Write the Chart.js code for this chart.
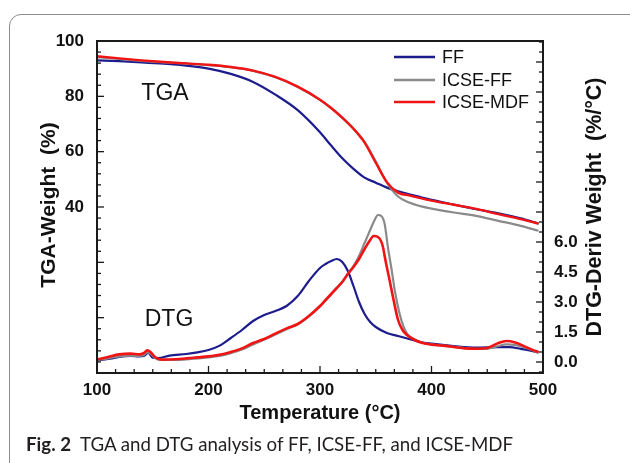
<!DOCTYPE html>
<html>
<head>
<meta charset="utf-8">
<script src="https://cdn.jsdelivr.net/npm/chart.js@4"></script>
<style>
html, body { margin: 0; padding: 0; background: #fff; }
#wrap { position: relative; width: 630px; height: 463px; overflow: hidden; }
#card { position: absolute; left: 9px; top: 14px; width: 640px; height: 480px; border: 1.5px solid #8c8c8c; border-radius: 12px; }
#chart { position: absolute; left: 0; top: 0; }
#caption { position: absolute; left: 26px; top: 433px; font-family: Lato, sans-serif; font-size: 18.7px; color: #231f20; white-space: nowrap; }
#caption b { font-weight: 700; }
</style>
</head>
<body>
<div id="wrap">
  <div id="card"></div>
  <canvas id="chart" width="630" height="463"></canvas>
  <div id="caption"><b>Fig. 2</b>&nbsp; TGA and DTG analysis of FF, ICSE-FF, and ICSE-MDF</div>
</div>
<script>
// legend names, same order as the colours
const names = ['FF', 'ICSE-FF', 'ICSE-MDF'];
const colors = ['#1c1c8c', '#8a8a8a', '#f01414'];

// TGA weight (%) vs temperature (°C)
const tgaT   = [100,120,140,160,180,200,220,240,260,280,300,310,320,330,340,350,360,370,380,390,400,420,440,460,480,496];
const ffTga  = [93.0,92.7,92.3,91.8,91.1,90.0,88.1,85.2,80.6,75.0,67.0,62.2,57.6,53.8,50.6,48.8,47.0,45.7,44.6,43.6,42.6,40.9,39.2,37.7,35.9,34.0];
const iffTga = [94.2,93.5,92.8,92.3,91.8,91.3,90.5,89.2,86.9,83.4,78.7,75.7,72.2,68.3,63.5,56.5,48.8,43.8,41.6,40.3,39.4,38.0,36.8,35.0,33.2,31.4];
const mdfTga = [94.5,93.7,93.0,92.4,91.9,91.4,90.6,89.3,87.0,83.5,78.8,75.8,72.3,68.3,63.3,56.0,49.0,45.2,44.2,43.2,42.3,40.8,39.3,37.4,35.6,34.0];

// DTG (%/°C) vs temperature (°C)
const ffDtgT = [100,110,120,130,138,142,146,150,155,165,180,190,200,210,220,230,240,250,260,270,280,290,300,305,310,315,320,325,330,335,340,345,350,360,370,380,390,400,420,440,460,470,480,490,496];
const ffDtg  = [0.08,0.15,0.25,0.3,0.28,0.3,0.45,0.22,0.2,0.32,0.4,0.48,0.6,0.82,1.2,1.6,2.05,2.35,2.55,2.8,3.3,4.05,4.7,4.9,5.05,5.15,5.0,4.55,3.8,3.0,2.4,2.0,1.75,1.45,1.3,1.15,1.0,0.92,0.8,0.72,0.74,0.74,0.66,0.56,0.48];
const iffDtgT = [100,110,120,130,138,142,145,148,152,158,170,180,190,200,210,220,230,240,250,260,270,280,290,300,305,310,315,320,325,330,335,340,345,349,352,355,358,361,364,367,371,375,379,384,390,400,410,420,430,440,450,455,460,467,475,482,490,496];
const iffDtg  = [0.1,0.18,0.28,0.32,0.3,0.35,0.48,0.42,0.2,0.1,0.1,0.13,0.18,0.23,0.3,0.44,0.62,0.88,1.12,1.38,1.64,1.88,2.28,2.78,3.08,3.38,3.7,4.02,4.42,4.8,5.3,5.95,6.6,7.1,7.35,7.3,6.9,5.7,4.7,3.6,2.5,1.75,1.35,1.15,1.0,0.88,0.82,0.76,0.7,0.66,0.66,0.72,0.8,0.88,0.85,0.75,0.6,0.45];
const mdfDtgT = [100,110,120,130,138,142,145,148,152,158,170,180,190,200,210,220,230,240,250,260,270,280,290,300,305,310,315,320,325,330,335,340,345,348,352,356,359,362,366,370,374,378,385,392,400,410,420,430,440,450,455,460,467,475,482,490,496];
const mdfDtg  = [0.12,0.25,0.38,0.42,0.38,0.45,0.58,0.5,0.25,0.12,0.14,0.18,0.23,0.28,0.36,0.5,0.68,0.95,1.15,1.42,1.68,1.9,2.3,2.8,3.1,3.4,3.7,4.0,4.4,4.75,5.15,5.65,6.1,6.3,6.25,5.85,5.0,4.2,3.1,2.1,1.6,1.35,1.1,0.95,0.87,0.82,0.75,0.68,0.66,0.7,0.82,0.95,1.05,0.98,0.82,0.62,0.5];

// axis ticks
const xLabels = [100, 200, 300, 400, 500];
const tgaLabels = [40, 60, 80, 100];
const dtgLabels = [0, 1.5, 3, 4.5, 6];

const font = 'Liberation Sans, Arial, sans-serif';
const pts = (xs, ys) => xs.map((x, i) => ({ x, y: ys[i] }));

function series(xs, ys, c, axis, order, w) {
    return {
        data: pts(xs, ys), yAxisID: axis, borderColor: c, backgroundColor: c,
        borderWidth: w, pointRadius: 0, showLine: true, tension: 0.3,
        cubicInterpolationMode: 'monotone', order
    };
}

// ticks inside the frame, titles, labels and legend
const frame = {
    id: 'frame',
    afterDraw(chart) {
        const { ctx, chartArea: a, scales } = chart;
        const seg = (x1, y1, x2, y2) => { ctx.beginPath(); ctx.moveTo(x1, y1); ctx.lineTo(x2, y2); ctx.stroke(); };
        ctx.save();
        ctx.strokeStyle = '#1a1a1a';
        ctx.lineWidth = 1.3;
        for (let i = 0; i <= 24; i++) {
            const px = scales.x.getPixelForValue(100 + i * 100 / 6);
            seg(px, a.bottom, px, a.bottom - (i % 6 === 0 ? 7 : 4));
        }
        for (let v = -20; v <= 100; v += 4) {
            const py = scales.y.getPixelForValue(v);
            seg(a.left, py, a.left + (v % 20 === 0 ? 7 : 4), py);
        }
        for (let i = -1; i <= 32; i++) {
            const py = scales.y2.getPixelForValue(i * 0.5);
            seg(a.right, py, a.right - (i % 3 === 0 ? 7 : 4), py);
        }
        ctx.lineWidth = 2;
        ctx.strokeRect(a.left, a.top, a.right - a.left, a.bottom - a.top);

        ctx.fillStyle = '#111';
        ctx.textBaseline = 'middle';
        ctx.textAlign = 'center';
        ctx.font = 'bold 20px ' + font;
        ctx.fillText('Temperature (°C)', (a.left + a.right) / 2, 413);
        ctx.save();
        ctx.translate(49, 205);
        ctx.rotate(-Math.PI / 2);
        ctx.font = 'bold 21px ' + font;
        ctx.fillText('TGA-Weight  (%)', 0, 0);
        ctx.restore();
        ctx.save();
        ctx.translate(595, 207);
        ctx.rotate(-Math.PI / 2);
        ctx.font = 'bold 21.5px ' + font;
        ctx.fillText('DTG-Deriv Weight  (%/°C)', 0, 0);
        ctx.restore();

        ctx.font = '23px ' + font;
        ctx.fillText('TGA', 165, 94);
        ctx.fillText('DTG', 169, 320);

        ctx.font = '18px ' + font;
        ctx.textAlign = 'left';
        [57, 80, 102].forEach((y, i) => {
            ctx.strokeStyle = colors[i];
            ctx.lineWidth = 2.5;
            seg(394, y, 435, y);
            ctx.fillText(names[i], 442, y + 1);
        });
        ctx.restore();
    }
};

const tickFont = { family: font, size: 17, weight: 'bold' };

new Chart(document.getElementById('chart'), {
    type: 'scatter',
    data: {
        datasets: [
            series(tgaT, ffTga, colors[0], 'y', 3, 2.2),
            series(tgaT, iffTga, colors[1], 'y', 2, 2.2),
            series(tgaT, mdfTga, colors[2], 'y', 1, 2.4),
            series(ffDtgT, ffDtg, colors[0], 'y2', 3, 2.2),
            series(iffDtgT, iffDtg, colors[1], 'y2', 2, 2.2),
            series(mdfDtgT, mdfDtg, colors[2], 'y2', 1, 2.6)
        ]
    },
    options: {
        responsive: false,
        animation: false,
        layout: { padding: { top: 41, left: 0, right: 0, bottom: 0 } },
        plugins: { legend: { display: false }, tooltip: { enabled: false } },
        scales: {
            x: {
                type: 'linear', min: 100, max: 500,
                grid: { display: false }, border: { display: false },
                ticks: {
                    stepSize: 100, autoSkip: false, maxRotation: 0, padding: -1,
                    color: '#111', font: tickFont,
                    callback: v => xLabels.includes(v) ? String(v) : ''
                },
                afterFit: s => { s.height = 90; }
            },
            y: {
                position: 'left', min: -20, max: 100,
                grid: { display: false }, border: { display: false },
                ticks: {
                    stepSize: 20, autoSkip: false, includeBounds: false, padding: 5,
                    color: '#111', font: tickFont,
                    callback: v => tgaLabels.includes(v) ? String(v) : ''
                },
                afterFit: s => { s.width = 97; }
            },
            y2: {
                position: 'right', min: -0.55, max: 16.05,
                grid: { display: false }, border: { display: false },
                ticks: {
                    stepSize: 1.5, autoSkip: false, includeBounds: false, padding: 3,
                    color: '#111', font: tickFont,
                    callback: v => dtgLabels.some(d => Math.abs(d - v) < 1e-6) ? v.toFixed(1) : ''
                },
                afterFit: s => { s.width = 87; }
            }
        }
    },
    plugins: [frame]
});
</script>
</body>
</html>
